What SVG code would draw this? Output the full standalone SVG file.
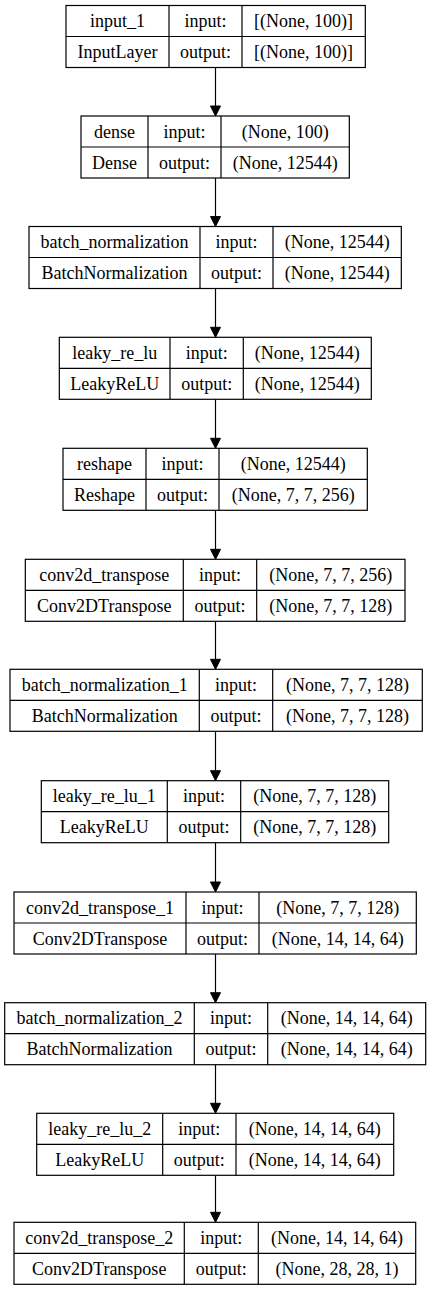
<svg xmlns="http://www.w3.org/2000/svg" width="431" height="1291" viewBox="0 0 431 1291">
<defs>
<style>
.box{fill:#fff;stroke:#000;stroke-width:1.2}
.ln{stroke:#000;stroke-width:1.2}
text{font-family:"Liberation Serif","Times New Roman",serif;font-size:18px;fill:#000;text-anchor:middle}
.edge{stroke:#000;stroke-width:1.2;fill:none}
.head{fill:#000;stroke:#000;stroke-width:1}
</style>
</defs>
<rect width="431" height="1291" fill="#fff"/>
<g id="connectors">
<line class="edge" x1="215.5" y1="67.5" x2="215.5" y2="106"/><polygon class="head" points="210.5,106 220.5,106 215.5,116"/>
<line class="edge" x1="215.5" y1="178" x2="215.5" y2="216.5"/><polygon class="head" points="210.5,216.5 220.5,216.5 215.5,226.5"/>
<line class="edge" x1="215.5" y1="288.5" x2="215.5" y2="327.3"/><polygon class="head" points="210.5,327.3 220.5,327.3 215.5,337.3"/>
<line class="edge" x1="215.5" y1="399.3" x2="215.5" y2="438.3"/><polygon class="head" points="210.5,438.3 220.5,438.3 215.5,448.3"/>
<line class="edge" x1="215.5" y1="510.3" x2="215.5" y2="549.3"/><polygon class="head" points="210.5,549.3 220.5,549.3 215.5,559.3"/>
<line class="edge" x1="215.5" y1="621.3" x2="215.5" y2="659.3"/><polygon class="head" points="210.5,659.3 220.5,659.3 215.5,669.3"/>
<line class="edge" x1="215.5" y1="731.3" x2="215.5" y2="770.7"/><polygon class="head" points="210.5,770.7 220.5,770.7 215.5,780.7"/>
<line class="edge" x1="215.5" y1="842.7" x2="215.5" y2="882"/><polygon class="head" points="210.5,882 220.5,882 215.5,892"/>
<line class="edge" x1="215.5" y1="954" x2="215.5" y2="992.7"/><polygon class="head" points="210.5,992.7 220.5,992.7 215.5,1002.7"/>
<line class="edge" x1="215.5" y1="1064.7" x2="215.5" y2="1103.3"/><polygon class="head" points="210.5,1103.3 220.5,1103.3 215.5,1113.3"/>
<line class="edge" x1="215.5" y1="1175.3" x2="215.5" y2="1212.3"/><polygon class="head" points="210.5,1212.3 220.5,1212.3 215.5,1222.3"/>
</g>
<g id="node_input_1">
<rect class="box" x="66" y="5.5" width="299.3" height="62"/>
<line class="ln" x1="66" y1="36.5" x2="365.3" y2="36.5"/>
<line class="ln" x1="169" y1="5.5" x2="169" y2="67.5"/>
<line class="ln" x1="242" y1="5.5" x2="242" y2="67.5"/>
<text x="117.5" y="27">input_1</text><text x="205.5" y="27">input:</text><text x="303.6" y="27">[(None, 100)]</text>
<text x="117.5" y="58">InputLayer</text><text x="205.5" y="58">output:</text><text x="303.6" y="58">[(None, 100)]</text>
</g>
<g id="node_dense">
<rect class="box" x="81" y="116" width="268.3" height="62"/>
<line class="ln" x1="81" y1="147" x2="349.3" y2="147"/>
<line class="ln" x1="148" y1="116" x2="148" y2="178"/>
<line class="ln" x1="221" y1="116" x2="221" y2="178"/>
<text x="114.5" y="137.5">dense</text><text x="184.5" y="137.5">input:</text><text x="285.2" y="137.5">(None, 100)</text>
<text x="114.5" y="168.5">Dense</text><text x="184.5" y="168.5">output:</text><text x="285.2" y="168.5">(None, 12544)</text>
</g>
<g id="node_batch_normalization">
<rect class="box" x="29" y="226.5" width="372.3" height="62"/>
<line class="ln" x1="29" y1="257.5" x2="401.3" y2="257.5"/>
<line class="ln" x1="200" y1="226.5" x2="200" y2="288.5"/>
<line class="ln" x1="273" y1="226.5" x2="273" y2="288.5"/>
<text x="114.5" y="248">batch_normalization</text><text x="236.5" y="248">input:</text><text x="337.2" y="248">(None, 12544)</text>
<text x="114.5" y="279">BatchNormalization</text><text x="236.5" y="279">output:</text><text x="337.2" y="279">(None, 12544)</text>
</g>
<g id="node_leaky_re_lu">
<rect class="box" x="59.3" y="337.3" width="312" height="62"/>
<line class="ln" x1="59.3" y1="368.3" x2="371.3" y2="368.3"/>
<line class="ln" x1="170" y1="337.3" x2="170" y2="399.3"/>
<line class="ln" x1="243.3" y1="337.3" x2="243.3" y2="399.3"/>
<text x="114.7" y="358.8">leaky_re_lu</text><text x="206.7" y="358.8">input:</text><text x="307.3" y="358.8">(None, 12544)</text>
<text x="114.7" y="389.8">LeakyReLU</text><text x="206.7" y="389.8">output:</text><text x="307.3" y="389.8">(None, 12544)</text>
</g>
<g id="node_reshape">
<rect class="box" x="63" y="448.3" width="304.3" height="62"/>
<line class="ln" x1="63" y1="479.3" x2="367.3" y2="479.3"/>
<line class="ln" x1="146" y1="448.3" x2="146" y2="510.3"/>
<line class="ln" x1="219" y1="448.3" x2="219" y2="510.3"/>
<text x="104.5" y="469.8">reshape</text><text x="182.5" y="469.8">input:</text><text x="293.2" y="469.8">(None, 12544)</text>
<text x="104.5" y="500.8">Reshape</text><text x="182.5" y="500.8">output:</text><text x="293.2" y="500.8">(None, 7, 7, 256)</text>
</g>
<g id="node_conv2d_transpose">
<rect class="box" x="25.3" y="559.3" width="379.7" height="62"/>
<line class="ln" x1="25.3" y1="590.3" x2="405" y2="590.3"/>
<line class="ln" x1="183.3" y1="559.3" x2="183.3" y2="621.3"/>
<line class="ln" x1="256.7" y1="559.3" x2="256.7" y2="621.3"/>
<text x="104.3" y="580.8">conv2d_transpose</text><text x="220" y="580.8">input:</text><text x="330.8" y="580.8">(None, 7, 7, 256)</text>
<text x="104.3" y="611.8">Conv2DTranspose</text><text x="220" y="611.8">output:</text><text x="330.8" y="611.8">(None, 7, 7, 128)</text>
</g>
<g id="node_batch_normalization_1">
<rect class="box" x="10" y="669.3" width="412.3" height="62"/>
<line class="ln" x1="10" y1="700.3" x2="422.3" y2="700.3"/>
<line class="ln" x1="199.3" y1="669.3" x2="199.3" y2="731.3"/>
<line class="ln" x1="272.7" y1="669.3" x2="272.7" y2="731.3"/>
<text x="104.7" y="690.8">batch_normalization_1</text><text x="236" y="690.8">input:</text><text x="347.5" y="690.8">(None, 7, 7, 128)</text>
<text x="104.7" y="721.8">BatchNormalization</text><text x="236" y="721.8">output:</text><text x="347.5" y="721.8">(None, 7, 7, 128)</text>
</g>
<g id="node_leaky_re_lu_1">
<rect class="box" x="41.3" y="780.7" width="347.4" height="62"/>
<line class="ln" x1="41.3" y1="811.7" x2="388.7" y2="811.7"/>
<line class="ln" x1="167.3" y1="780.7" x2="167.3" y2="842.7"/>
<line class="ln" x1="240.7" y1="780.7" x2="240.7" y2="842.7"/>
<text x="104.3" y="802.2">leaky_re_lu_1</text><text x="204" y="802.2">input:</text><text x="314.7" y="802.2">(None, 7, 7, 128)</text>
<text x="104.3" y="833.2">LeakyReLU</text><text x="204" y="833.2">output:</text><text x="314.7" y="833.2">(None, 7, 7, 128)</text>
</g>
<g id="node_conv2d_transpose_1">
<rect class="box" x="14" y="892" width="402.3" height="62"/>
<line class="ln" x1="14" y1="923" x2="416.3" y2="923"/>
<line class="ln" x1="186" y1="892" x2="186" y2="954"/>
<line class="ln" x1="259" y1="892" x2="259" y2="954"/>
<text x="100" y="913.5">conv2d_transpose_1</text><text x="222.5" y="913.5">input:</text><text x="337.7" y="913.5">(None, 7, 7, 128)</text>
<text x="100" y="944.5">Conv2DTranspose</text><text x="222.5" y="944.5">output:</text><text x="337.7" y="944.5">(None, 14, 14, 64)</text>
</g>
<g id="node_batch_normalization_2">
<rect class="box" x="4.7" y="1002.7" width="421" height="62"/>
<line class="ln" x1="4.7" y1="1033.7" x2="425.7" y2="1033.7"/>
<line class="ln" x1="194.3" y1="1002.7" x2="194.3" y2="1064.7"/>
<line class="ln" x1="267.7" y1="1002.7" x2="267.7" y2="1064.7"/>
<text x="99.5" y="1024.2">batch_normalization_2</text><text x="231" y="1024.2">input:</text><text x="346.7" y="1024.2">(None, 14, 14, 64)</text>
<text x="99.5" y="1055.2">BatchNormalization</text><text x="231" y="1055.2">output:</text><text x="346.7" y="1055.2">(None, 14, 14, 64)</text>
</g>
<g id="node_leaky_re_lu_2">
<rect class="box" x="36.7" y="1113.3" width="357" height="62"/>
<line class="ln" x1="36.7" y1="1144.3" x2="393.7" y2="1144.3"/>
<line class="ln" x1="162.7" y1="1113.3" x2="162.7" y2="1175.3"/>
<line class="ln" x1="236" y1="1113.3" x2="236" y2="1175.3"/>
<text x="99.7" y="1134.8">leaky_re_lu_2</text><text x="199.3" y="1134.8">input:</text><text x="314.8" y="1134.8">(None, 14, 14, 64)</text>
<text x="99.7" y="1165.8">LeakyReLU</text><text x="199.3" y="1165.8">output:</text><text x="314.8" y="1165.8">(None, 14, 14, 64)</text>
</g>
<g id="node_conv2d_transpose_2">
<rect class="box" x="14" y="1222.3" width="401.7" height="62"/>
<line class="ln" x1="14" y1="1253.3" x2="415.7" y2="1253.3"/>
<line class="ln" x1="184.3" y1="1222.3" x2="184.3" y2="1284.3"/>
<line class="ln" x1="258.3" y1="1222.3" x2="258.3" y2="1284.3"/>
<text x="99.2" y="1243.8">conv2d_transpose_2</text><text x="221.3" y="1243.8">input:</text><text x="337" y="1243.8">(None, 14, 14, 64)</text>
<text x="99.2" y="1274.8">Conv2DTranspose</text><text x="221.3" y="1274.8">output:</text><text x="337" y="1274.8">(None, 28, 28, 1)</text>
</g>
</svg>
